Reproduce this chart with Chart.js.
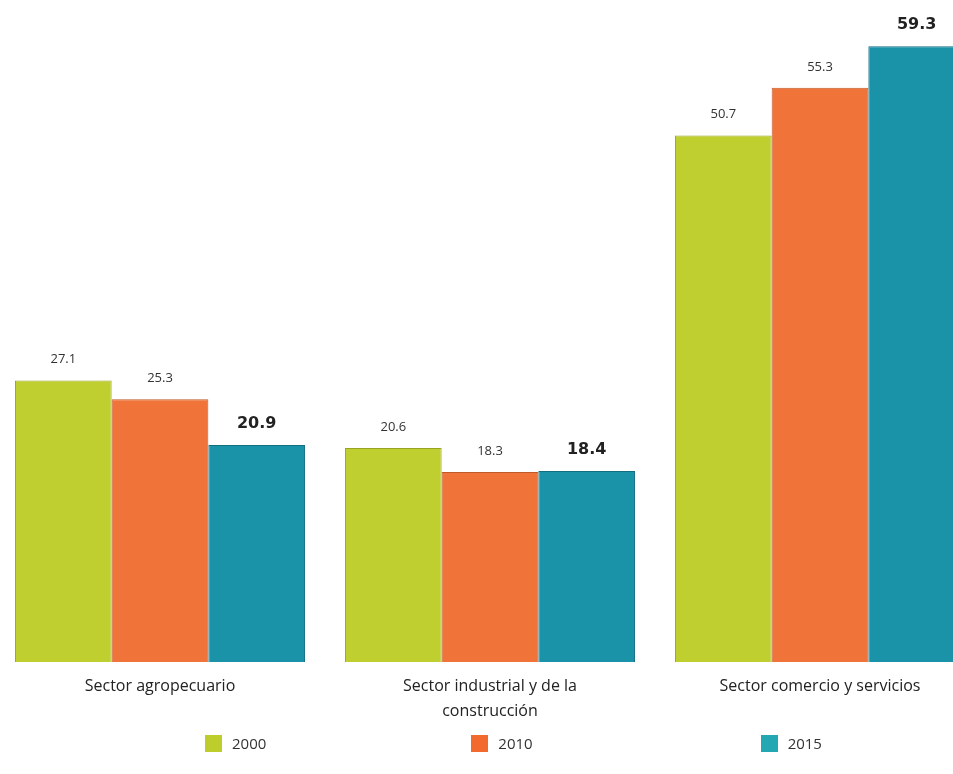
<!DOCTYPE html>
<html lang="es">
    <head>
        <meta charset="UTF-8" />
        <title>Población ocupada por sector</title>
        <script src="https://cdn.jsdelivr.net/npm/chart.js"></script>
        <style>
            body {
                margin: 0;
                background: #fff;
                overflow: hidden;
                font-family: 'Open Sans', sans-serif;
            }

            #wrap {
                position: absolute;
                left: -5px;
                top: 0;
                width: 990px;
                height: 774px;
            }

            #legend {
                position: absolute;
                top: 733px;
                left: 205px;
                display: flex;
                font-size: 15px;
                color: #333;
            }

            #legend span.item {
                display: flex;
                align-items: center;
                gap: 10px;
            }

            #legend span.item:nth-child(2) {
                margin-left: 205px;
            }

            #legend span.item:nth-child(3) {
                margin-left: 228px;
            }

            #legend span.box {
                display: inline-block;
                width: 17px;
                height: 17px;
            }
        </style>
    </head>
    <body>
        <div id="wrap"><canvas id="sectorChart"></canvas></div>
        <div id="legend"></div>

        <script>
            const categories = [
                'Sector agropecuario',
                ['Sector industrial y de la', 'construcción'],
                'Sector comercio y servicios',
            ];
            const years = ['2000', '2010', '2015'];
            const values2000 = [27.1, 20.6, 50.7];
            const values2010 = [25.3, 18.3, 55.3];
            const values2015 = [20.9, 18.4, 59.3];

            const colors = ['#bfcf2f', '#f0743a', '#1a92a8'];
            const borders = ['#97a522', '#c05a28', '#136f80'];
            const legendColors = ['#bccd2c', '#f26a2e', '#22a7b3'];

            const series = [values2000, values2010, values2015];

            // numbers above each bar, the 2015 ones bold and bigger
            const barLabels = {
                id: 'barLabels',
                afterDatasetsDraw(chart) {
                    const ctx = chart.ctx;
                    ctx.save();
                    ctx.textAlign = 'center';
                    ctx.textBaseline = 'middle';
                    chart.data.datasets.forEach((ds, i) => {
                        const meta = chart.getDatasetMeta(i);
                        const last = i === chart.data.datasets.length - 1;
                        ctx.font = last ? 'bold 16px "DejaVu Sans", sans-serif' : '13px "Open Sans", sans-serif';
                        ctx.fillStyle = last ? '#222' : '#333';
                        meta.data.forEach((bar, j) => {
                            ctx.fillText(ds.data[j].toFixed(1), bar.x, bar.y - 21);
                        });
                    });
                    ctx.restore();
                },
            };

            const ctx = document.getElementById('sectorChart').getContext('2d');
            new Chart(ctx, {
                type: 'bar',
                data: {
                    labels: categories,
                    datasets: series.map((data, i) => ({
                        label: years[i],
                        data: data,
                        backgroundColor: colors[i],
                        borderColor: borders[i],
                        borderWidth: { left: 1, right: 1, top: 1, bottom: 0 },
                        categoryPercentage: 0.879,
                        barPercentage: 1,
                    })),
                },
                options: {
                    responsive: true,
                    maintainAspectRatio: false,
                    animation: false,
                    layout: { padding: { top: 39, left: 0, right: 0, bottom: 0 } },
                    plugins: {
                        legend: { display: false },
                        tooltip: { enabled: false },
                    },
                    scales: {
                        x: {
                            grid: { display: false, drawTicks: false },
                            border: { display: false },
                            ticks: {
                                color: '#222',
                                padding: 12,
                                maxRotation: 0,
                                autoSkip: false,
                                font: { family: 'Open Sans', size: 16, lineHeight: 1.55 },
                            },
                            afterFit(scale) {
                                scale.height = 112;
                            },
                        },
                        y: {
                            display: false,
                            min: 0,
                            max: 60,
                        },
                    },
                },
                plugins: [barLabels],
            });

            const legend = document.getElementById('legend');
            years.forEach((y, i) => {
                const item = document.createElement('span');
                item.className = 'item';
                const box = document.createElement('span');
                box.className = 'box';
                box.style.background = legendColors[i];
                item.appendChild(box);
                item.appendChild(document.createTextNode(y));
                legend.appendChild(item);
            });
        </script>
    </body>
</html>
